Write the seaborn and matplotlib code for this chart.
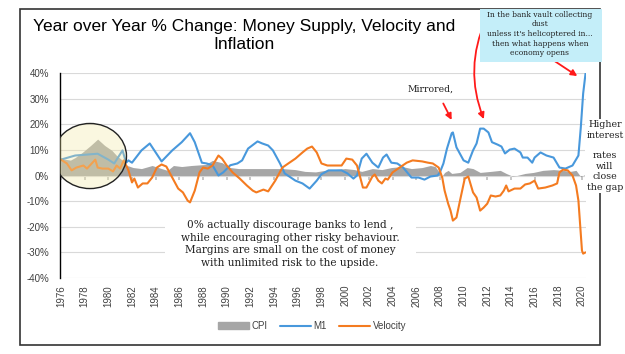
# Year over Year % change: M1, velocity and CPI (annotated chart)
import numpy as np
import pandas as pd
import matplotlib
matplotlib.use("Agg")
import matplotlib.pyplot as plt
from matplotlib.patches import Ellipse, Rectangle, Patch
from matplotlib.lines import Line2D
import seaborn as sns

# Data (% change year over year)
# ==============================================================================
m1_years = [1976.0, 1977.2, 1978.3, 1979.1, 1980.0, 1980.5, 1981.2, 1981.5, 1981.7, 1982.0,
            1982.8, 1983.5, 1984.5, 1985.4, 1986.2, 1986.9, 1987.3, 1987.9, 1988.3, 1988.8,
            1989.3, 1989.7, 1990.3, 1990.9, 1991.3, 1991.8, 1992.6, 1993.0, 1993.5, 1993.9,
            1994.5, 1994.9, 1995.8, 1996.4, 1997.0, 1997.6, 1998.0, 1998.6, 1999.7, 2000.2,
            2000.7, 2001.0, 2001.4, 2001.8, 2002.3, 2002.8, 2003.2, 2003.5, 2003.9, 2004.4,
            2004.9, 2005.6, 2006.2, 2006.7, 2007.2, 2007.8, 2008.0, 2008.3, 2008.6, 2009.0,
            2009.1, 2009.4, 2010.0, 2010.4, 2010.8, 2011.1, 2011.4, 2011.7, 2012.1, 2012.4,
            2012.9, 2013.2, 2013.5, 2013.9, 2014.3, 2014.8, 2015.0, 2015.4, 2015.8, 2016.0,
            2016.5, 2017.0, 2017.6, 2018.1, 2018.6, 2019.2, 2019.7, 2019.9, 2020.1, 2020.3]
m1_values = [6.2, 7.8, 8.2, 8.5, 6.2, 4.7, 9.8, 5.0, 5.9, 5.0,
             9.8, 12.5, 5.5, 9.8, 13.0, 16.5, 13.0, 5.0, 4.7, 4.0,
             0.0, 1.2, 4.0, 4.7, 5.9, 10.5, 13.3, 12.5, 11.7, 9.8,
             4.7, 0.8, -2.0, -3.1, -5.1, -2.0, 0.5, 2.0, 2.0, 0.8,
             -1.2, 0.0, 6.6, 8.5, 5.0, 3.1, 7.0, 8.2, 5.0, 4.7,
             3.1, -0.8, -0.8, -1.6, -0.4, 0.0, 1.2, 4.7, 10.5, 16.5,
             16.8, 11.0, 5.9, 5.0, 9.8, 12.5, 18.3, 18.3, 16.8, 13.0,
             12.0, 11.3, 8.6, 10.1, 10.5, 9.0, 7.0, 7.0, 5.0, 7.0,
             9.0, 7.8, 7.0, 3.1, 2.7, 3.9, 7.8, 18.7, 32.0, 39.8]

vel_years = [1976.0, 1976.5, 1976.9, 1977.3, 1977.9, 1978.2, 1978.6, 1978.9, 1979.1, 1979.5,
             1980.0, 1980.4, 1980.7, 1981.0, 1981.3, 1981.7, 1982.0, 1982.2, 1982.5, 1982.9,
             1983.3, 1983.7, 1984.1, 1984.5, 1984.9, 1985.4, 1985.9, 1986.3, 1986.7, 1986.9,
             1987.3, 1987.7, 1988.0, 1988.4, 1988.8, 1989.3, 1989.6, 1990.0, 1990.5, 1991.1,
             1991.7, 1992.2, 1992.5, 1993.1, 1993.5, 1994.1, 1994.7, 1995.2, 1995.8, 1996.4,
             1996.8, 1997.2, 1997.6, 1998.0, 1998.5, 1999.1, 1999.7, 2000.1, 2000.6, 2001.0,
             2001.3, 2001.5, 2001.8, 2002.3, 2002.5, 2002.8, 2003.1, 2003.4, 2003.6, 2004.0,
             2004.6, 2005.2, 2005.7, 2006.5, 2007.0, 2007.4, 2007.9, 2008.2, 2008.4, 2008.7,
             2008.9, 2009.1, 2009.4, 2009.7, 2010.1, 2010.4, 2010.8, 2011.1, 2011.4, 2011.7,
             2012.0, 2012.3, 2012.7, 2013.1, 2013.4, 2013.6, 2013.8, 2014.3, 2014.8, 2015.2,
             2015.6, 2016.0, 2016.3, 2016.9, 2017.5, 2017.9, 2018.1, 2018.4, 2018.8, 2019.2,
             2019.5, 2019.7, 2020.0, 2020.1, 2020.3]
vel_values = [6.2, 4.7, 2.0, 3.1, 3.9, 2.7, 4.7, 6.2, 3.1, 2.7,
              2.7, 1.6, 3.9, 2.7, 5.9, 2.0, -2.7, -1.2, -4.7, -3.1,
              -3.1, -0.8, 3.1, 4.3, 3.5, -0.8, -5.1, -6.6, -9.8, -10.5,
              -5.9, 1.2, 3.1, 2.7, 3.9, 7.8, 6.6, 3.9, 1.2, -1.2,
              -3.9, -5.9, -6.6, -5.5, -6.2, -2.0, 3.1, 4.7, 6.6, 9.0,
              10.5, 11.3, 9.0, 4.7, 3.9, 3.9, 3.9, 6.6, 6.2, 3.9,
              -1.2, -4.7, -4.7, -0.4, 0.4, -2.0, -3.1, -1.2, -1.6, 1.2,
              3.1, 5.0, 5.9, 5.5, 5.0, 4.7, 3.1, -0.8, -5.9, -11.0,
              -13.7, -17.6, -16.4, -9.8, -1.2, -0.4, -6.6, -8.6, -13.7, -12.5,
              -11.0, -7.8, -8.2, -7.8, -5.9, -3.9, -6.2, -5.1, -5.1, -3.5,
              -3.1, -2.0, -5.1, -4.7, -3.9, -3.1, 1.2, 2.3, 2.0, 0.0,
              -3.9, -9.8, -29.3, -30.5, -30.0]

cpi_years = [1976.0, 1976.8, 1977.2, 1977.8, 1978.5, 1979.1, 1979.7, 1980.3, 1980.7, 1981.2,
             1981.6, 1982.1, 1982.8, 1983.7, 1984.5, 1985.0, 1985.5, 1986.2, 1987.0, 1988.2,
             1988.8, 1989.6, 1990.3, 1991.0, 1993.0, 1994.7, 1995.8, 1996.6, 1997.5, 1998.3,
             1999.1, 2000.0, 2000.8, 2001.4, 2002.3, 2003.1, 2003.9, 2004.8, 2005.6, 2006.5,
             2007.2, 2007.6, 2007.9, 2008.1, 2008.4, 2008.7, 2009.0, 2009.7, 2010.3, 2010.8,
             2011.4, 2012.3, 2013.1, 2013.6, 2014.1, 2014.5, 2015.2, 2015.9, 2016.7, 2017.6,
             2018.4, 2019.0, 2019.5, 2019.9, 2020.3]
cpi_values = [6.6, 6.0, 7.0, 9.0, 11.7, 14.2, 11.7, 9.8, 7.8, 5.9,
              3.9, 3.1, 2.7, 3.9, 2.7, 2.0, 3.9, 3.5, 3.9, 4.3,
              5.9, 5.0, 3.1, 2.7, 2.7, 2.7, 2.3, 1.6, 1.4, 2.0,
              2.3, 2.7, 2.3, 1.6, 2.7, 2.3, 3.1, 3.5, 2.7, 3.1,
              3.9, 3.5, 1.6, -0.8, 1.2, 2.0, 0.8, 1.2, 3.1, 2.7,
              1.2, 1.6, 2.0, 0.8, -0.2, 0.0, 0.8, 1.2, 2.0, 2.3,
              2.0, 1.6, 2.0, -0.5, 0.5]

year_ticks = list(range(1976, 2021, 2))
pct_ticks = [40, 30, 20, 10, 0, -10, -20, -30, -40]
pct_labels = ["40%", "30%", "20%", "10%", "0%", "-10%", "-20%", "-30%", "-40%"]

series_names = ["CPI", "M1", "Velocity"]
colors = {"CPI": "#a6a6a6", "M1": "#4898dc", "Velocity": "#f47b20"}

lines = pd.concat([
    pd.DataFrame({"year": m1_years, "pct": m1_values, "series": "M1"}),
    pd.DataFrame({"year": vel_years, "pct": vel_values, "series": "Velocity"}),
])

# Estilo
# ==============================================================================
sns.set_theme(style="white")
plt.rcParams['font.family'] = ['Liberation Sans', 'DejaVu Sans']

W, H = 625, 354
def fpos(px, py):
    # pixel position -> figure fraction
    return (px / W, 1 - py / H)

fig = plt.figure(figsize=(W / 100, H / 100), dpi=100)
ax = fig.add_axes([60 / W, 1 - 278 / H, 526 / W, 205 / H])

# CPI area
ax.fill_between(cpi_years, cpi_values, 0, color=colors["CPI"], linewidth=0, zorder=1)

sns.lineplot(data=lines, x="year", y="pct", hue="series", palette=colors,
             estimator=None, linewidth=1.5, legend=False, ax=ax, zorder=2)

# Ejes
# ==============================================================================
ax.set_xlim(1975.92, 2020.34)
ax.set_ylim(-40, 40)
ax.set_xticks(year_ticks)
ax.set_xticklabels([str(y) for y in year_ticks], rotation=90)
ax.set_yticks(pct_ticks)
ax.set_yticklabels(pct_labels)
ax.set_xlabel("")
ax.set_ylabel("")
ax.tick_params(axis="x", length=0, pad=5, labelsize=7, labelcolor="#404040")
ax.tick_params(axis="y", length=0, pad=8, labelsize=7, labelcolor="#404040")
ax.grid(axis="y", color="#d9d9d9", linewidth=0.8, zorder=0)
ax.set_axisbelow(True)
for side in ["top", "right", "bottom"]:
    ax.spines[side].set_visible(False)
ax.spines["left"].set_color("black")
ax.spines["left"].set_linewidth(1.0)

# small tick marks on the 0% line
sec = ax.secondary_xaxis(0.5)
sec.set_xticks(year_ticks)
sec.xaxis.set_ticks_position("bottom")
sec.tick_params(axis="x", direction="out", length=3, color="#bfbfbf",
                labelbottom=False, labeltop=False)
for sp in sec.spines.values():
    sp.set_visible(False)

# Circle around the late 70s
ax.add_patch(Ellipse((1978.45, 7.6), 6.17, 25.4, facecolor="#f3eaa8", alpha=0.35,
                     edgecolor="none", zorder=4))
ax.add_patch(Ellipse((1978.45, 7.6), 6.17, 25.4, facecolor="none",
                     edgecolor="#222222", linewidth=1.0, zorder=5))

# Leyenda
# ==============================================================================
handles = [Patch(color=colors["CPI"]),
           Line2D([], [], color=colors["M1"], linewidth=1.5),
           Line2D([], [], color=colors["Velocity"], linewidth=1.5)]
fig.legend(handles, series_names, loc="center", bbox_to_anchor=fpos(312, 326),
           ncol=3, frameon=False, fontsize=7, labelcolor="#404040",
           handlelength=3.2, handleheight=0.6, columnspacing=1.2, handletextpad=0.3)

# Title
fig.text(*fpos(244, 35.5), "Year over Year % Change: Money Supply, Velocity and\nInflation",
         ha="center", va="center", fontsize=12.5, linespacing=1.2, color="black")

# Frame around the whole chart
fig.patches.append(Rectangle(fpos(20, 345), 580 / W, 336 / H, transform=fig.transFigure,
                             facecolor="none", edgecolor="#333333", linewidth=1.2, zorder=0))

# Annotations
# ==============================================================================
serif = ["DejaVu Serif"]
note_color = "#222222"

# white box behind the middle note
ax.add_patch(Rectangle(((165 - 60) / 526, (278 - 274) / 205), 251 / 526, 66 / 205,
                       transform=ax.transAxes, facecolor="white", edgecolor="none", zorder=3))
ax.text((290 - 60) / 526, (278 - 244) / 205,
        "0% actually discourage banks to lend ,\nwhile encouraging other risky behaviour.\n"
        "Margins are small on the cost of money\nwith unlimited risk to the upside.",
        transform=ax.transAxes, ha="center", va="center", fontsize=7.6,
        family=serif, color=note_color, linespacing=1.3, zorder=6)

fig.text(*fpos(431, 89), "Mirrored,", ha="center", va="center", fontsize=6.7,
         family=serif, color=note_color)

fig.text(*fpos(605, 156), "Higher\ninterest\n\nrates\nwill\nclose\nthe gap",
         ha="center", va="center", fontsize=6.8, family=serif, color=note_color,
         linespacing=1.2, bbox=dict(facecolor="white", edgecolor="none", pad=1))

fig.text(*fpos(540, 34), "In the bank vault collecting\ndust\nunless it's helicoptered in...\n"
         "then what happens when\neconomy opens", ha="center", va="center",
         fontsize=5.5, family=serif, color=note_color, linespacing=1.27, zorder=6)
fig.patches.append(Rectangle(fpos(480, 62), 122 / W, 53 / H, transform=fig.transFigure,
                             facecolor="#c4eef9", edgecolor="none", zorder=1))

arrow = dict(arrowstyle="-|>", color="#ff1a1a", linewidth=1.3, mutation_scale=9)
ax.annotate("", xy=(2009.1, 20.7), xycoords="data", xytext=fpos(442, 101),
            textcoords="figure fraction", arrowprops=arrow)
ax.annotate("", xy=(2011.8, 21.0), xycoords="data", xytext=fpos(487, 17),
            textcoords="figure fraction",
            arrowprops=dict(arrow, connectionstyle="arc3,rad=0.22"))
ax.annotate("", xy=(2019.8, 38.2), xycoords="data", xytext=fpos(550, 58),
            textcoords="figure fraction", arrowprops=arrow)

plt.savefig("out.png", dpi=100)
